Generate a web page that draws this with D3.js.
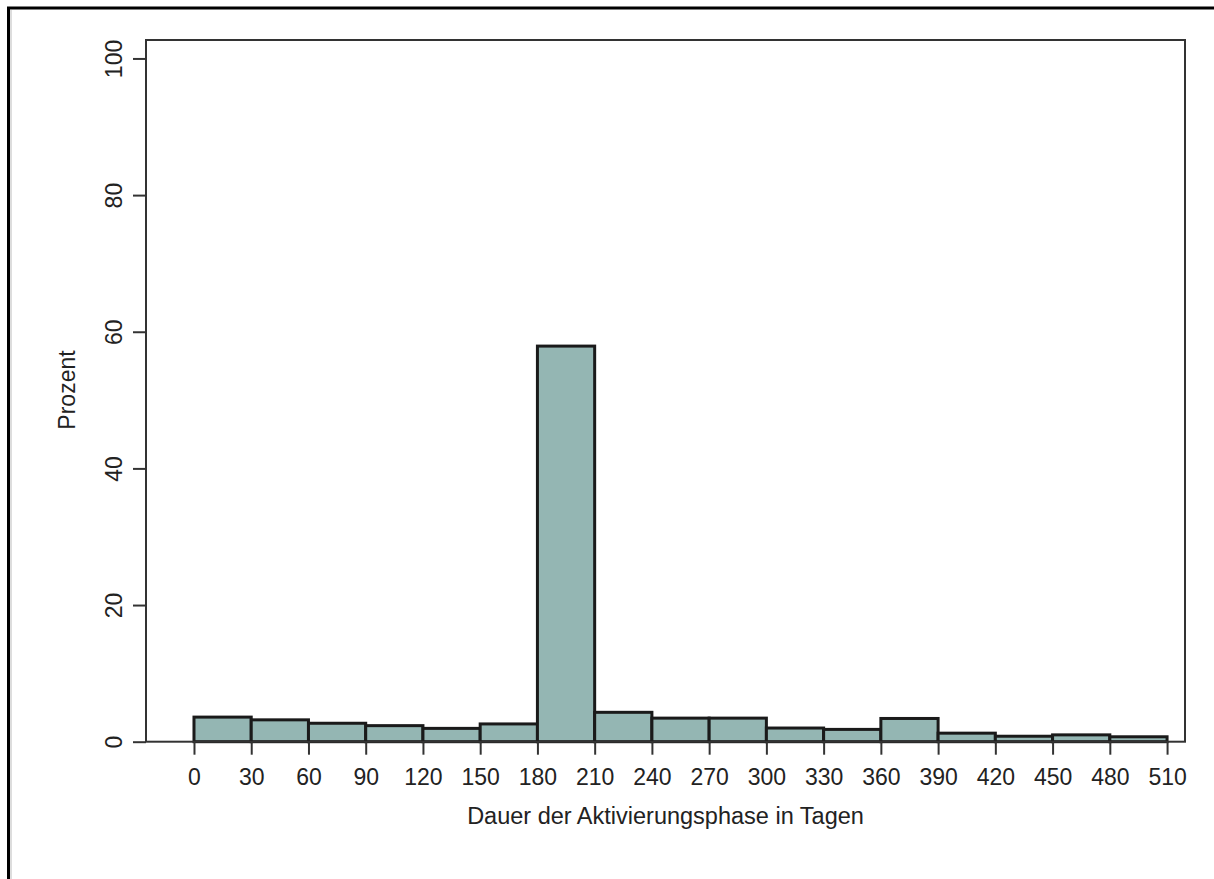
<!DOCTYPE html>
<html>
<head>
<meta charset="utf-8">
<script src="https://cdn.jsdelivr.net/npm/d3@7/dist/d3.min.js"></script>
<style>
  html, body { margin: 0; padding: 0; background: #fff; }
  svg { display: block; }
  text { font-family: "Liberation Sans", Arial, sans-serif; fill: #222; }
</style>
</head>
<body>
<svg id="chart" width="1214" height="879"></svg>
<script>
// Data
const binStarts = [0, 30, 60, 90, 120, 150, 180, 210, 240, 270, 300, 330, 360, 390, 420, 450, 480];
const binWidth = 30;
const percentValues = [3.6, 3.2, 2.7, 2.35, 1.95, 2.6, 57.9, 4.3, 3.45, 3.45, 2.0, 1.8, 3.4, 1.25, 0.8, 1.0, 0.72];
const xTickValues = [0, 30, 60, 90, 120, 150, 180, 210, 240, 270, 300, 330, 360, 390, 420, 450, 480, 510];
const yTickValues = [0, 20, 40, 60, 80, 100];
const xTitle = "Dauer der Aktivierungsphase in Tagen";
const yTitle = "Prozent";

const svg = d3.select("#chart");

// outer border (left and top visible, rest cropped)
svg.append("rect")
  .attr("x", 8.5).attr("y", 8)
  .attr("width", 1400).attr("height", 1000)
  .attr("fill", "none").attr("stroke", "#000").attr("stroke-width", 3);
svg.append("line")
  .attr("x1", 11).attr("x2", 11).attr("y1", 10).attr("y2", 879)
  .attr("stroke", "#bbb").attr("stroke-width", 1);

const plot = { left: 146, right: 1185, top: 40, bottom: 741.7 };

const x = d3.scaleLinear().domain([-25.15, 519.4]).range([plot.left, plot.right]);
const y = d3.scaleLinear().domain([0, 102.7]).range([plot.bottom, plot.top]);

// bars
const bars = binStarts.map((s, i) => ({ x0: s, x1: s + binWidth, v: percentValues[i] }));
svg.append("g").selectAll("rect")
  .data(bars)
  .join("rect")
  .attr("x", d => x(d.x0))
  .attr("y", d => y(d.v))
  .attr("width", d => x(d.x1) - x(d.x0))
  .attr("height", d => y(0) - y(d.v))
  .attr("fill", "#94b6b3")
  .attr("stroke", "#1a1a1a")
  .attr("stroke-width", 3);

// plot frame
svg.append("rect")
  .attr("x", plot.left).attr("y", plot.top)
  .attr("width", plot.right - plot.left).attr("height", plot.bottom - plot.top)
  .attr("fill", "none").attr("stroke", "#333").attr("stroke-width", 2);

// x axis
const xAxis = svg.append("g")
  .attr("transform", `translate(0,${plot.bottom})`)
  .call(d3.axisBottom(x).tickValues(xTickValues).tickSize(13).tickPadding(14).tickFormat(d3.format("d")));
xAxis.select(".domain").remove();
xAxis.selectAll(".tick line").attr("stroke", "#333").attr("stroke-width", 2);
xAxis.selectAll(".tick text")
  .attr("font-size", 23)
  .attr("fill", "#222")
  .attr("font-family", "Liberation Sans, Arial, sans-serif");

// y axis
const yAxis = svg.append("g")
  .attr("transform", `translate(${plot.left},0)`)
  .call(d3.axisLeft(y).tickValues(yTickValues).tickSize(13).tickFormat(d3.format("d")));
yAxis.select(".domain").remove();
yAxis.selectAll(".tick line").attr("stroke", "#333").attr("stroke-width", 2);
yAxis.selectAll(".tick text")
  .attr("font-size", 23)
  .attr("fill", "#222")
  .attr("font-family", "Liberation Sans, Arial, sans-serif")
  .attr("x", null).attr("dy", null)
  .attr("text-anchor", "middle")
  .attr("dominant-baseline", "auto")
  .attr("transform", "translate(-24.5,0) rotate(-90)");

// axis titles
svg.append("text")
  .attr("x", (plot.left + plot.right) / 2)
  .attr("y", 824)
  .attr("text-anchor", "middle")
  .attr("font-size", 23.5)
  .text(xTitle);

svg.append("text")
  .attr("transform", `translate(75,390) rotate(-90)`)
  .attr("text-anchor", "middle")
  .attr("font-size", 23)
  .text(yTitle);
</script>
</body>
</html>
